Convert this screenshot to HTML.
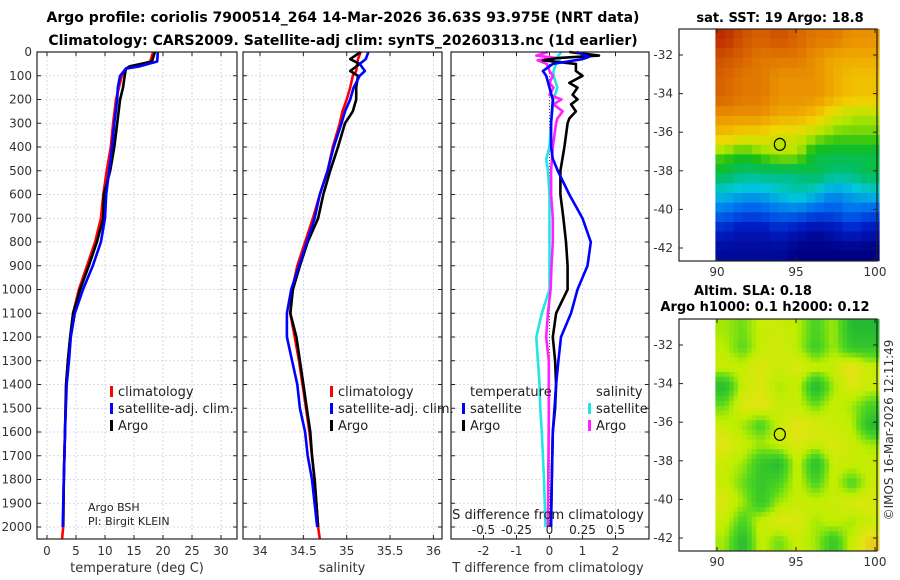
<!DOCTYPE html>
<html><head><meta charset="utf-8">
<style>
body{margin:0;background:#fff;width:900px;height:580px;overflow:hidden}
svg{display:block;font-family:"DejaVu Sans","Liberation Sans",sans-serif}
</style></head>
<body>
<svg id="fig" width="900" height="580" viewBox="0 0 900 580" xmlns="http://www.w3.org/2000/svg">
<text x="343" y="22" font-size="14" font-weight="bold" text-anchor="middle">Argo profile: coriolis 7900514_264 14-Mar-2026 36.63S 93.975E (NRT data)</text>
<text x="343" y="45" font-size="14" font-weight="bold" text-anchor="middle">Climatology: CARS2009. Satellite-adj clim: synTS_20260313.nc (1d earlier)</text>
<g id="g1"></g>
<g id="g2"></g>
<g id="g3"></g>
<g id="m1"></g>
<g id="m2"></g>
<text x="780" y="22" font-size="13" font-weight="bold" text-anchor="middle">sat. SST: 19 Argo: 18.8</text>
<text x="753" y="295" font-size="13" font-weight="bold" text-anchor="middle">Altim. SLA: 0.18</text>
<text x="765" y="311" font-size="13" font-weight="bold" text-anchor="middle">Argo h1000: 0.1 h2000: 0.12</text>
<text transform="translate(893,430) rotate(-90)" font-size="12" fill="#333" text-anchor="middle">©IMOS 16-Mar-2026 12:11:49</text>
</svg>
<script>
// ---- profile data ----
const depthT = [0,40,60,70,100,150,200,300,400,500,600,700,800,900,1000,1100,1200,1300,1400,1600,1800,2000];
const climT  = [18.3,17.8,15.2,13.6,12.9,12.4,11.9,11.4,11.0,10.3,9.7,9.3,8.3,6.9,5.5,4.5,4.0,3.6,3.3,3.1,2.9,2.8];
const satT   = [19.1,19.0,16.0,13.6,12.6,12.2,12.1,11.6,11.2,10.7,10.2,10.0,9.3,7.9,6.2,4.8,4.1,3.8,3.4,3.1,2.9,2.7];
const argoT  = [18.6,18.1,14.3,13.6,13.4,13.1,12.6,12.1,11.6,10.9,9.8,9.7,8.6,7.2,5.7,4.5,4.0,3.6,3.3,3.1,2.9,2.8];
const climTtail = [[2000,2.8],[2050,2.6]];

const depthS = [0,30,50,80,100,150,200,250,300,400,500,600,700,800,900,1000,1100,1200,1300,1400,1500,1600,1700,1800,1900,2000];
const climS = [35.16,35.13,35.12,35.11,35.07,35.04,35.0,34.95,34.92,34.84,34.78,34.69,34.61,34.52,34.43,34.37,34.35,34.40,34.45,34.49,34.53,34.57,34.6,34.63,34.65,34.67];
const satS  = [35.25,35.22,35.15,35.21,35.15,35.08,35.04,34.98,34.94,34.85,34.78,34.69,34.63,34.54,34.45,34.36,34.31,34.31,34.37,34.43,34.46,34.52,34.55,34.6,34.63,34.66];
const argoS = [35.16,35.04,35.15,35.04,35.13,35.11,35.11,35.07,34.98,34.9,34.81,34.73,34.67,34.55,34.46,34.38,34.35,34.42,34.46,34.5,34.54,34.58,34.6,34.63,34.65,34.67];
const climStail = [[2000,34.67],[2050,34.69]];

const depthD1 = [0,15,25,35,50,80,100,130,150,180,200,220,250,280,300,400,500,600,700,800,900,1000,1100,1200,1300,1400,1500,1600,1800,2000];
const argoTdiff = [0.6,1.5,0.3,-0.2,0.8,0.8,1.0,0.6,0.85,0.7,0.85,0.65,0.8,0.6,0.55,0.45,0.33,0.33,0.42,0.5,0.55,0.55,0.2,0.1,0.17,0.2,0.17,0.1,0.07,0.04];
const argoSdiff = [-0.012,-0.1,0.05,-0.09,-0.02,0.0,0.025,0.0,0.03,0.0,0.09,0.03,0.1,0.06,0.05,0.025,0.012,0.012,0.025,0.025,0.015,0.008,-0.012,-0.025,-0.005,-0.005,-0.005,-0.006,-0.01,-0.012];
const depthD2 = [0,20,30,50,80,100,150,200,300,400,450,500,600,700,800,900,1000,1100,1200,1300,1400,1500,1600,1800,2000];
const satTdiff = [0.82,1.2,1.0,0.1,-0.2,-0.1,0.0,0.1,0.05,0.05,0.1,0.25,0.6,1.0,1.25,1.15,0.85,0.65,0.35,0.27,0.2,0.15,0.1,0.07,0.05];
const satSdiff = [0.09,0.06,0.08,0.05,0.03,0.03,0.06,0.03,0.012,0.0,-0.025,-0.012,0.0,0.0,0.0,0.0,0.0,-0.058,-0.1,-0.088,-0.075,-0.07,-0.058,-0.042,-0.03];

const depthTicks = [0,100,200,300,400,500,600,700,800,900,1000,1100,1200,1300,1400,1500,1600,1700,1800,1900,2000];
const tTicks = [0,5,10,15,20,25,30];
const sTicks = [34,34.5,35,35.5,36];
const dTTicks = [-2,-1,0,1,2];
const dSTicks = [-0.5,-0.25,0,0.25,0.5];

// ---- map data ----
const sstLatTop = -30.65, sstLonLeft = 89.9, cellLat = 1, cellLon = 1.15;
const sstGrid = [
 [22,21.5,21,21.5,21,20.5,20.5,20,20],
 [21.5,21,20.5,20.5,20.5,20,19.5,19.5,19.5],
 [21,20.5,20.5,20,20,20,19.5,19,19],
 [21,20.5,20.5,20,20,20,19.5,19,19],
 [20,20,20,19.5,19.5,19,18,17.5,17.5],
 [19,18.5,18.5,18,18,17.5,17,17,17],
 [17,16.5,17,17.5,17.5,16,16,16,16],
 [16,15.5,15.5,15.5,15.5,16,15.5,15.5,16],
 [14.5,14,14,14.5,15,14.5,13.5,14,14.5],
 [13,12.5,12.5,13,13,12.5,12.5,13,12.5],
 [11.5,11,11,11.5,11,10.5,11,11.5,11],
 [10.5,10.5,10.5,10.5,10,10,10,10,10]];
const slaGrid = [
 [0.5,0.4,0.6,0.6,0.55,0.3,0.5,0.1,0.1],
 [0.55,0.35,0.6,0.65,0.55,0.25,0.5,0.2,0.2],
 [0.6,0.6,0.7,0.6,0.7,0.6,0.6,0.8,0.6],
 [0.1,0.6,0.7,0.5,0.6,0.05,0.5,0.7,0.6],
 [0.4,0.7,0.75,0.6,0.6,0.4,0.6,0.5,0.3],
 [0.6,0.5,0.3,0.6,0.75,0.7,0.6,0.55,0.1],
 [0.75,0.6,0.5,0.6,0.7,0.6,0.7,0.6,0.5],
 [0.6,0.5,0.2,0.1,0.6,0.1,0.6,0.6,0.6],
 [0.6,0.4,0.2,0.3,0.6,0.3,0.6,0.3,0.6],
 [0.7,0.5,0.2,0.5,0.6,0.6,0.6,0.7,0.7],
 [0.6,0.3,0.6,0.7,0.7,0.5,0.6,0.5,0.6],
 [0.5,0.1,0.6,0.4,0.6,0.5,0.2,0.6,0.85]];
const argoLon = 93.975, argoLat = -36.63, argoSST = 17.6;
const lonTicks = [90,95,100];
const latTicks = [-32,-34,-36,-38,-40,-42];

const NS="http://www.w3.org/2000/svg";
function mk(parent,tag,attrs,txt){const e=document.createElementNS(NS,tag);for(const k in attrs)e.setAttribute(k,attrs[k]);if(txt!==undefined)e.textContent=txt;parent.appendChild(e);return e;}

const Y0=52, Y1=539;
const yD = d => Y0 + d*0.2375;
const xT = v => 47 + 5.8*v;
const xS = v => 260 + 86.7*(v-34);
const xDT = v => 549.5 + 33*v;
const xDS = v => 549.5 + 132*v;

function frame(g,x0,x1,xticks,xf,labels){
  depthTicks.forEach(d=>{const l=mk(g,'line',{x1:x0,x2:x1,y1:yD(d),y2:yD(d),stroke:'#c9cfee','stroke-width':0.8,'stroke-dasharray':'2,2'});
  
  });
  xticks.forEach(t=>{const x=xf(t);const l=mk(g,'line',{x1:x,x2:x,y1:Y0,y2:Y1,stroke:'#c9cfee','stroke-width':0.8,'stroke-dasharray':'2,2'});
  
  
  mk(g,'line',{x1:x,x2:x,y1:Y1,y2:Y1-4,stroke:'#222'});mk(g,'line',{x1:x,x2:x,y1:Y0,y2:Y0+4,stroke:'#222'});});
  depthTicks.forEach(d=>{mk(g,'line',{x1:x0,x2:x0+4,y1:yD(d),y2:yD(d),stroke:'#222'});mk(g,'line',{x1:x1,x2:x1-4,y1:yD(d),y2:yD(d),stroke:'#222'});});
  if(labels){xticks.forEach((t,i)=>{const tx=mk(g,'text',{x:xf(t),y:555,'font-size':12,fill:'#333','text-anchor':'middle'},labels[i]);
  
  });}
}
function box(g,x0,x1){const r=mk(g,'rect',{x:x0,y:Y0,width:x1-x0,height:Y1-Y0,fill:'none',stroke:'#222','stroke-width':1.2});

}
function line(g,ds,vs,xf,col,name,w){const pts=ds.map((d,i)=>xf(vs[i]).toFixed(1)+','+yD(d).toFixed(1)).join(' ');
const p=mk(g,'polyline',{points:pts,fill:'none',stroke:col,'stroke-width':w||2.6,'stroke-linejoin':'round'});

}
function legend(g,x,y,col,txt,name){mk(g,'rect',{x:x,y:y-10,width:3,height:11,fill:col});
const t=mk(g,'text',{x:x+8,y:y,'font-size':13,fill:'#222'},txt);

}

// Panel 1
const g1=document.getElementById('g1');
frame(g1,37,237,tTicks,xT,tTicks.map(String));
depthTicks.forEach(d=>{const t=mk(g1,'text',{x:32,y:yD(d)+4,'font-size':12,fill:'#333','text-anchor':'end'},String(d));

});
line(g1,climTtail.map(a=>a[0]),climTtail.map(a=>a[1]),xT,'#ff0000','clim-temp-tail');
line(g1,depthT,climT,xT,'#ff0000','clim-temperature-line');
line(g1,depthT,argoT,xT,'#000000','argo-temperature-line');
line(g1,depthT,satT,xT,'#0000ff','sat-temperature-line');
box(g1,37,237);
legend(g1,110,396,'#ff0000','climatology','legend-climatology');
legend(g1,110,413,'#0000ff','satellite-adj. clim.','legend-satellite');
legend(g1,110,430,'#000000','Argo','legend-argo');
mk(g1,'text',{x:88,y:511,'font-size':11,fill:'#222'},'Argo BSH');
mk(g1,'text',{x:88,y:525,'font-size':11,fill:'#222'},'PI: Birgit KLEIN');
mk(g1,'text',{x:137,y:572,'font-size':13,fill:'#333','text-anchor':'middle'},'temperature (deg C)');

// Panel 2
const g2=document.getElementById('g2');
frame(g2,243,442,sTicks,xS,['34','34.5','35','35.5','36']);
line(g2,climStail.map(a=>a[0]),climStail.map(a=>a[1]),xS,'#ff0000','clim-salinity-tail');
line(g2,depthS,climS,xS,'#ff0000','clim-salinity-line');
line(g2,depthS,argoS,xS,'#000000','argo-salinity-line');
line(g2,depthS,satS,xS,'#0000ff','sat-salinity-line');
box(g2,243,442);
legend(g2,330,396,'#ff0000','climatology','legend-climatology-s');
legend(g2,330,413,'#0000ff','satellite-adj. clim.','legend-satellite-s');
legend(g2,330,430,'#000000','Argo','legend-argo-s');
mk(g2,'text',{x:342,y:572,'font-size':13,fill:'#333','text-anchor':'middle'},'salinity');

// Panel 3
const g3=document.getElementById('g3');
frame(g3,451,649,dTTicks,xDT,['-2','-1','0','1','2']);
mk(g3,'line',{x1:xDT(0),x2:xDT(0),y1:Y0,y2:yD(2000),stroke:'#555','stroke-width':1,'stroke-dasharray':'1,2'});
line(g3,depthD2,satSdiff,xDS,'#22e6e6','sat-salinity-diff-line');
line(g3,depthD1,argoSdiff,xDS,'#ff22ff','argo-salinity-diff-line');
line(g3,depthD1,argoTdiff,xDT,'#000000','argo-temp-diff-line');
line(g3,depthD2,satTdiff,xDT,'#0000ff','sat-temp-diff-line');
box(g3,451,649);
mk(g3,'text',{x:470,y:396,'font-size':13,fill:'#222'},'temperature');
legend(g3,462,413,'#0000ff','satellite','legend-sat-t');
legend(g3,462,430,'#000000','Argo','legend-argo-t');
mk(g3,'text',{x:596,y:396,'font-size':13,fill:'#222'},'salinity');
legend(g3,588,413,'#22e6e6','satellite','legend-sat-s');
legend(g3,588,430,'#ff22ff','Argo','legend-argo-s-diff');
mk(g3,'text',{x:548,y:519,'font-size':13,fill:'#222','text-anchor':'middle'},'S difference from climatology');
dSTicks.forEach(v=>{const t=mk(g3,'text',{x:xDS(v),y:534,'font-size':12,fill:'#222','text-anchor':'middle'},String(v));

});
mk(g3,'text',{x:548,y:572,'font-size':13,fill:'#333','text-anchor':'middle'},'T difference from climatology');

// Maps
function ramp(stops,v){
 if(v<=stops[0][0])return 'rgb('+stops[0][1].join(',')+')';
 for(let i=1;i<stops.length;i++){if(v<=stops[i][0]){const a=stops[i-1],b=stops[i],f=(v-a[0])/(b[0]-a[0]);
 return 'rgb('+a[1].map((c,k)=>Math.round(c+(b[1][k]-c)*f)).join(',')+')';}}
 return 'rgb('+stops[stops.length-1][1].join(',')+')';}
const sstStops=[[10,[0,0,130]],[11.5,[0,30,200]],[13,[0,110,240]],[14.5,[0,200,220]],[15.5,[0,190,120]],[16.5,[20,190,20]],[17.5,[180,230,0]],[18.5,[240,215,0]],[19.5,[240,170,0]],[20.5,[225,120,0]],[21.5,[205,80,0]],[22.2,[180,30,0]]];
const sstCol = t => ramp(sstStops,t);
const slaStops=[[0,[20,175,60]],[0.35,[80,215,30]],[0.55,[190,238,0]],[0.75,[228,228,20]],[1,[240,170,40]]];
const slaCol = v => ramp(slaStops,v);
function sample(grid,r,c){
 const R=grid.length,C=grid[0].length;
 const rr=Math.max(0,Math.min(R-1,r-0.5)), cc=Math.max(0,Math.min(C-1,c-0.5));
 const r0=Math.floor(rr), c0=Math.floor(cc), r1=Math.min(R-1,r0+1), c1=Math.min(C-1,c0+1);
 const fr=rr-r0, fc=cc-c0;
 return grid[r0][c0]*(1-fr)*(1-fc)+grid[r0][c1]*(1-fr)*fc+grid[r1][c0]*fr*(1-fc)+grid[r1][c1]*fr*fc;
}
function map(id,grid,colf,yTop,yBot,latScaleTop,fillArgo,name,sub){
 const g=document.getElementById(id);
 const X0=679,X1=877;
 const xL = lon => 717 + 15.8*(lon-90);
 const yL = lat => latScaleTop + (yBot-yTop)/12.02*(-32-lat);
 const R=grid.length, C=grid[0].length;
 for(let i=0;i<R*sub;i++)for(let j=0;j<C*sub;j++){
   const r=(i+0.5)/sub, c=(j+0.5)/sub;
   const v=sample(grid,r,c);
   const la=sstLatTop - i/sub*cellLat, lo=sstLonLeft + j/sub*cellLon;
   const x=xL(lo), y=yL(la), w=xL(lo+cellLon/sub)-x+0.6, h=yL(la-cellLat/sub)-y+0.6;
   const rc=mk(g,'rect',{x:x.toFixed(1),y:y.toFixed(1),width:w.toFixed(1),height:h.toFixed(1),fill:colf(v)});
   
   
 }
 const fr=mk(g,'rect',{x:X0,y:yTop,width:X1-X0,height:yBot-yTop,fill:'none',stroke:'#222','stroke-width':1.2});
 
 
 lonTicks.forEach(lo=>{const x=xL(lo);mk(g,'line',{x1:x,x2:x,y1:yBot,y2:yBot-4,stroke:'#222'});mk(g,'line',{x1:x,x2:x,y1:yTop,y2:yTop+4,stroke:'#222'});
   const t=mk(g,'text',{x:x,y:yBot+15,'font-size':12,fill:'#333','text-anchor':'middle'},String(lo));
   
   });
 latTicks.forEach(la=>{const y=yL(la);mk(g,'line',{x1:X0,x2:X0+4,y1:y,y2:y,stroke:'#222'});mk(g,'line',{x1:X1,x2:X1-4,y1:y,y2:y,stroke:'#222'});
   const t=mk(g,'text',{x:673,y:y+4,'font-size':12,fill:'#333','text-anchor':'end'},String(la));
   
   });
 const ci=mk(g,'ellipse',{cx:xL(argoLon),cy:yL(argoLat),rx:5.5,ry:6,fill:fillArgo,stroke:'#000','stroke-width':1.2});
 
 
}
map('m1',sstGrid,sstCol,29,261,55,sstCol(argoSST),'sst-map',2);
map('m2',slaGrid,slaCol,319,551,345,slaCol(0.6),'sla-map',4);
</script>
</body></html>
